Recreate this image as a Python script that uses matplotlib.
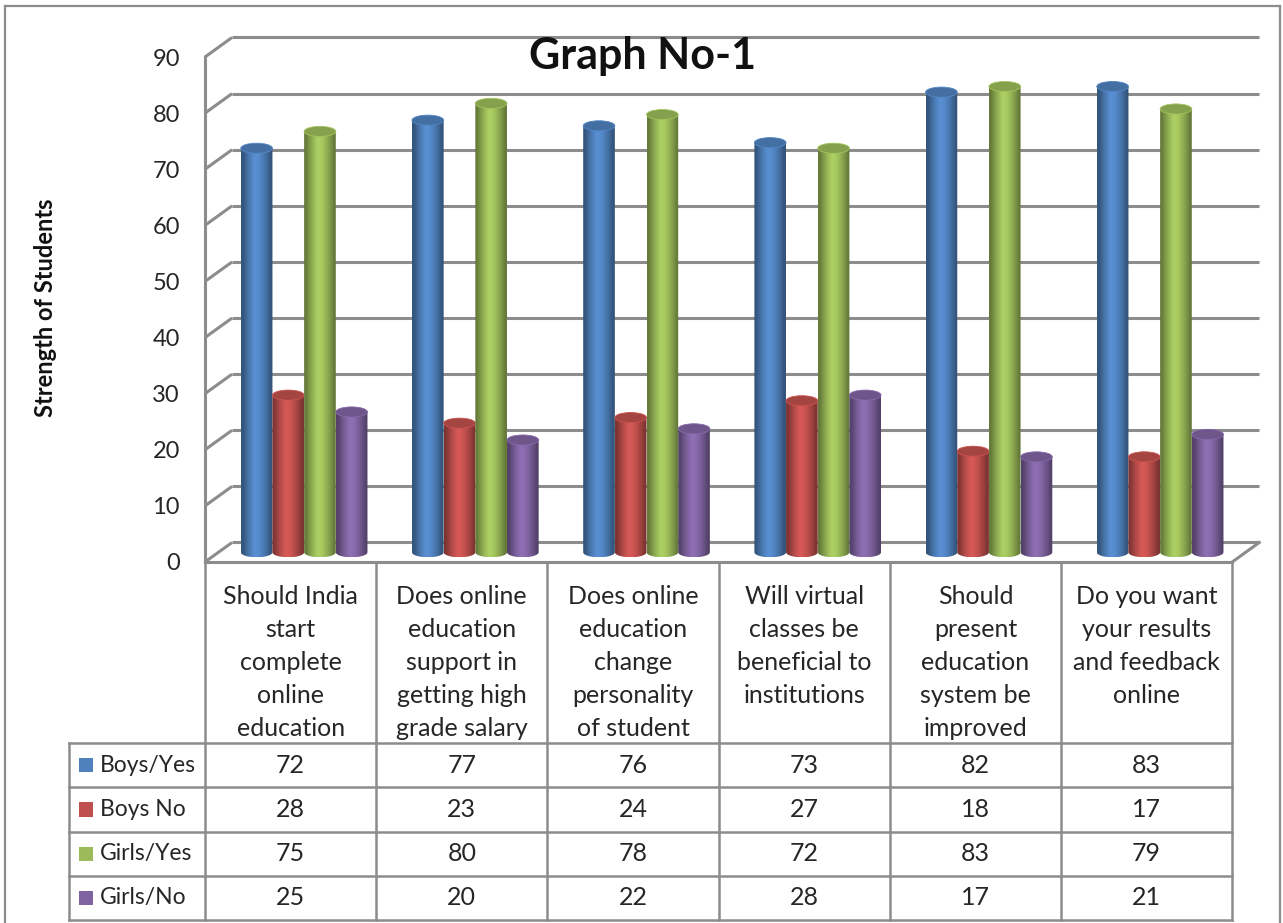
import numpy as np
import matplotlib
matplotlib.use("Agg")
import matplotlib.pyplot as plt
from matplotlib.patches import Ellipse, Polygon, Rectangle
from matplotlib.colors import to_rgb
from matplotlib.lines import Line2D

plt.rcParams['font.family'] = ['Lato', 'DejaVu Sans']

# ---- data ----
categories = [
    "Should India\nstart\ncomplete\nonline\neducation",
    "Does online\neducation\nsupport in\ngetting high\ngrade salary",
    "Does online\neducation\nchange\npersonality\nof student",
    "Will virtual\nclasses be\nbeneficial to\ninstitutions",
    "Should\npresent\neducation\nsystem be\nimproved",
    "Do you want\nyour results\nand feedback\nonline",
]
series_names = ["Boys/Yes", "Boys No", "Girls/Yes", "Girls/No"]
boys_yes = [72, 77, 76, 73, 82, 83]
boys_no = [28, 23, 24, 27, 18, 17]
girls_yes = [75, 80, 78, 72, 83, 79]
girls_no = [25, 20, 22, 28, 17, 21]
series = [boys_yes, boys_no, girls_yes, girls_no]
colors = ["#4F81BD", "#C0504D", "#9BBB59", "#8064A2"]
yticks = list(range(0, 100, 10))

# ---- layout (pixels) ----
W, H = 1283, 923
X0, Y0 = 205, 562          # front corner of the floor
CW = 171.2                 # px per category
PV = 5.611                 # px per value unit
DX, DY = 0.158, 3.48       # depth offset in data units
XMAX, YMAX = 6.18, 94
GRID = "#8c8c8c"
TXT = "#262626"

fig = plt.figure(figsize=(W / 100, H / 100), dpi=100)

ax = fig.add_axes([X0 / W, (H - Y0) / H, XMAX * CW / W, YMAX * PV / H])


def cylinder(ax, xl, w, y0, y1, color, eh, z):
    base = np.array(to_rgb(color))
    shade = np.array([0.66, 0.84, 1.0, 1.12, 1.08, 0.97, 0.83, 0.66])
    grad = np.clip(base[None, :] * shade[:, None], 0, 1)[None, :, :]
    im = ax.imshow(grad, extent=[xl, xl + w, y0 - eh / 2, y1], aspect='auto',
                   interpolation='bilinear', zorder=z)
    t = np.linspace(np.pi, 2 * np.pi, 40)
    xs = xl + w / 2 + w / 2 * np.cos(t)
    ys = y0 + eh / 2 * np.sin(t)
    verts = list(zip(xs, ys)) + [(xl + w, y1), (xl, y1)]
    clip = Polygon(verts, closed=True, transform=ax.transData)
    im.set_clip_path(clip)
    top = Ellipse((xl + w / 2, y1), w, eh, facecolor=np.clip(base * 0.86, 0, 1),
                  edgecolor=np.clip(base * 1.05, 0, 1), lw=0.6, zorder=z + 0.5)
    ax.add_patch(top)


# walls / grid
for v in yticks:
    ax.plot([0, DX], [v, v + DY], color=GRID, lw=2.2, zorder=1, clip_on=False,
            solid_capstyle='butt')
    ax.plot([DX, 6 + DX], [v + DY, v + DY], color=GRID, lw=2.2, zorder=1, clip_on=False,
            solid_capstyle='butt')
ax.plot([0, 0], [0, 90], color=GRID, lw=2.2, zorder=1, clip_on=False)
ax.plot([0, 6], [0, 0], color=GRID, lw=2.2, zorder=1, clip_on=False)
ax.plot([6, 6 + DX], [0, DY], color=GRID, lw=2.2, zorder=1, clip_on=False)

# bars
bw = 0.185
for i in range(len(categories)):
    left = i + 0.5 + DX / 2 - 2 * bw
    for j, vals in enumerate(series):
        cylinder(ax, left + j * bw, bw, DY / 2, vals[i] + DY / 2, colors[j], 1.8, 3 + j)

ax.set_xlim(0, XMAX)
ax.set_ylim(0, YMAX)
ax.set_yticks(yticks)
ax.set_xticks([])
ax.tick_params(axis='y', length=0, pad=18, labelsize=17, labelcolor=TXT)
for s in ax.spines.values():
    s.set_visible(False)
ax.patch.set_visible(False)

# ---- data table ----
tax = fig.add_axes([X0 / W, (H - 920) / H, XMAX * CW / W, (920 - Y0) / H])
tax.set_xlim(0, XMAX)
tax.set_ylim(8.1, 0)
tax.axis('off')
LH = 4.1
HX = -0.795
for k in range(7):
    tax.plot([k, k], [0, 8.1], color=GRID, lw=1.8, clip_on=False)
tax.plot([HX, HX], [LH, 8.1], color=GRID, lw=1.8, clip_on=False)
for r in range(5):
    tax.plot([HX, 6], [LH + r, LH + r], color=GRID, lw=1.8, clip_on=False)

for k, lab in enumerate(categories):
    tax.text(k + 0.5, 0.52, lab, ha='center', va='top', fontsize=18,
             linespacing=1.53, color=TXT)

for r, (name, vals, c) in enumerate(zip(series_names, series, colors)):
    yc = LH + r + 0.5
    tax.add_patch(Rectangle((-0.736, yc - 0.16), 0.082, 0.32, facecolor=c,
                            edgecolor='none', clip_on=False))
    tax.text(-0.615, yc, name, ha='left', va='center', fontsize=16.5, color=TXT,
             clip_on=False)
    for k, v in enumerate(vals):
        tax.text(k + 0.5, yc, str(v), ha='center', va='center', fontsize=18, color=TXT)

# titles
fig.text(643 / W, 1 - 56 / H, "Graph No-1", ha='center', va='center', fontsize=31,
         fontweight='bold', color='#111111')
fig.text(46 / W, 1 - 308 / H, "Strength of Students", rotation=90, ha='center',
         va='center', fontsize=17, fontweight='bold', color='#111111')

# outer border
fig.add_artist(Line2D([5 / W, 5 / W], [0, 1 - 6 / H], color=GRID, lw=1.6))
fig.add_artist(Line2D([5 / W, 1280 / W], [1 - 6 / H, 1 - 6 / H], color=GRID, lw=1.6))
fig.add_artist(Line2D([1280 / W, 1280 / W], [0, 1 - 6 / H], color=GRID, lw=1.6))

fig.savefig("out.png", dpi=100)
